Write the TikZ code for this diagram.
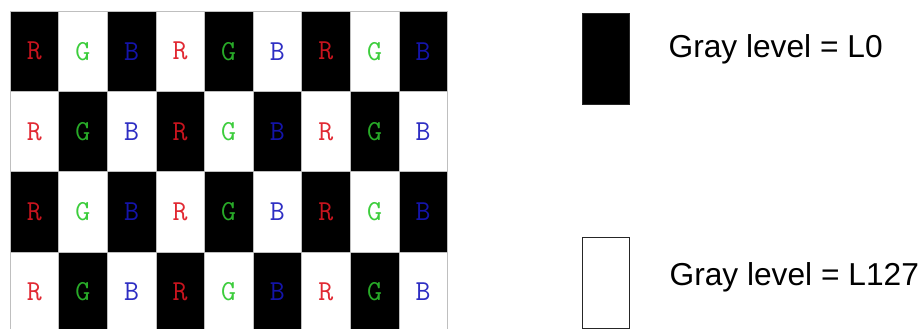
\documentclass[tikz,border=0pt]{standalone}
\usepackage{fontspec}
\usepackage{tikz}
\usetikzlibrary{positioning}
\newfontfamily\legendfont{Liberation Sans}
\definecolor{rOnDark}{RGB}{200,20,30}
\definecolor{rOnLight}{RGB}{225,40,50}
\definecolor{gOnDark}{RGB}{40,170,40}
\definecolor{gOnLight}{RGB}{60,205,60}
\definecolor{bOnDark}{RGB}{20,20,170}
\definecolor{bOnLight}{RGB}{45,45,195}
\tikzset{
  cellbase/.style={rectangle,draw=black!25,line width=0.6pt,inner sep=0pt,
                   minimum width=48.6pt,minimum height=80.3pt,
                   font=\ttfamily\fontsize{29}{31}\selectfont},
  darkcell/.style={cellbase,fill=black},
  lightcell/.style={cellbase,fill=white},
  legendbox/.style={rectangle,draw=black!85,line width=0.8pt,inner sep=0pt,
                    minimum width=47pt,minimum height=91pt},
  legendtext/.style={inner sep=0pt,anchor=west,
                     font=\legendfont\fontsize{31.7}{38}\selectfont}
}
\begin{document}
\begin{tikzpicture}[x=1pt,y=1pt]
  \useasboundingbox (0,0) rectangle (923,329);
  \begin{scope}
  \clip (0,0) rectangle (923,329);

  % RGB checker pattern
  \foreach \row in {0,...,3}{
    \foreach \col in {0,...,8}{
      \pgfmathtruncatemacro{\parity}{mod(\row+\col,2)}
      \pgfmathtruncatemacro{\sub}{mod(\col,3)}
      \ifnum\sub=0 \def\letter{R}\def\tint{r}\fi
      \ifnum\sub=1 \def\letter{G}\def\tint{g}\fi
      \ifnum\sub=2 \def\letter{B}\def\tint{b}\fi
      \ifnum\parity=0
        \node[darkcell,text=\tint OnDark] (cell-\row-\col)
          at ({34.3+48.6*\col},{318-40.15-80.3*\row}) {\letter};
      \else
        \node[lightcell,text=\tint OnLight] (cell-\row-\col)
          at ({34.3+48.6*\col},{318-40.15-80.3*\row}) {\letter};
      \fi
    }
  }
  \end{scope}

  % Legend
  \node[legendbox,fill=black] (dark) at (605.5,270) {};
  \node[legendtext,right=39pt of dark,yshift=10pt] (darklabel) {Gray level = L0};
  \node[legendbox,fill=white] (light) at (605.5,46) {};
  \node[legendtext,right=40pt of light,yshift=6pt] (lightlabel) {Gray level = L127};

\end{tikzpicture}
\end{document}
